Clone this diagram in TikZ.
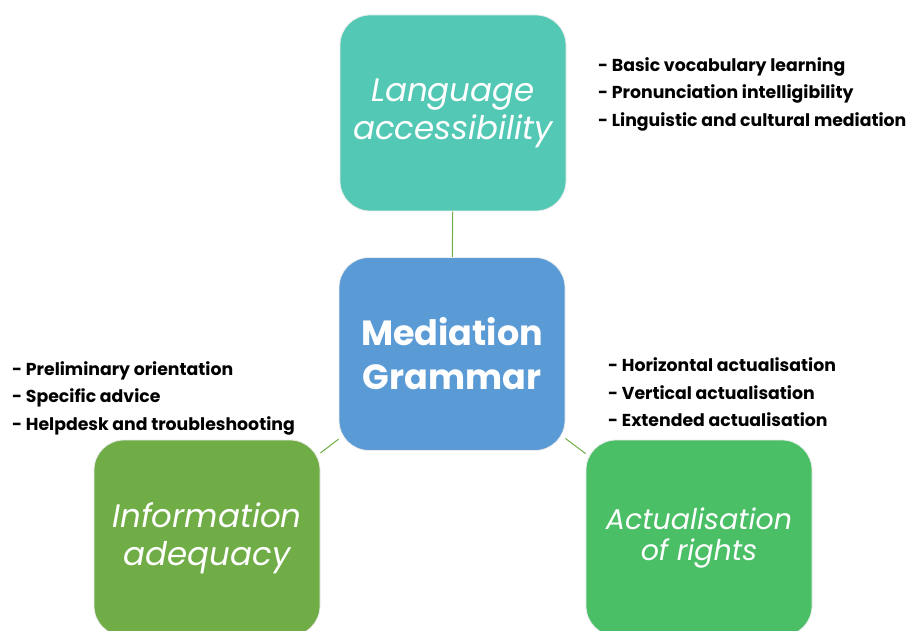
\documentclass[tikz,border=0pt]{standalone}
\usepackage{fontspec}
\setmainfont{Poppins}
\usetikzlibrary{backgrounds}
\definecolor{cteal}{HTML}{53C9B5}
\definecolor{cblue}{HTML}{5B9BD5}
\definecolor{cgreenA}{HTML}{70AD47}
\definecolor{cgreenB}{HTML}{4ABF66}
\definecolor{cline}{HTML}{70AD47}
\tikzset{
  box/.style={draw=white!85!gray, line width=0.8pt, rounded corners=30pt,
    minimum width=226pt, minimum height=196pt, inner sep=0pt,
    text=white, align=center},
  boxtext/.style={font=\fontsize{32.5}{38}\selectfont\itshape},
  list/.style={anchor=west, align=left, inner sep=0pt,
    font=\fontsize{17.3}{27.5}\selectfont\bfseries},
  conn/.style={draw=cline, line width=1pt}
}
\begin{document}
\begin{tikzpicture}[x=1pt,y=-1pt]
\useasboundingbox (0,0) rectangle (908,631);
\clip (0,0) rectangle (908,631);
\node[box, fill=cteal, boxtext] (lang) at (453,113) {Language\\accessibility};
\node[box, fill=cblue, minimum height=193pt, font=\fontsize{35}{44}\selectfont\bfseries] (med) at (452,354) {Mediation\\Grammar};
\node[box, fill=cgreenA, boxtext] (info) at (207,538) {Information\\adequacy};
\node[box, fill=cgreenB, font=\fontsize{28.5}{32}\selectfont\itshape] (act) at (699,538) {Actualisation\\of rights};
\begin{pgfonlayer}{background}
\draw[conn] (lang) -- (med);
\draw[conn] (med) -- (info);
\draw[conn] (med) -- (act);
\end{pgfonlayer}
\node[list] (l1) at (598,94) {- Basic vocabulary learning\\- Pronunciation intelligibility\\- Linguistic and cultural mediation};
\node[list] (l2) at (12,398) {- Preliminary orientation\\- Specific advice\\- Helpdesk and troubleshooting};
\node[list] (l3) at (608,392.5) {- Horizontal actualisation\\- Vertical actualisation\\- Extended actualisation};
\end{tikzpicture}
\end{document}
